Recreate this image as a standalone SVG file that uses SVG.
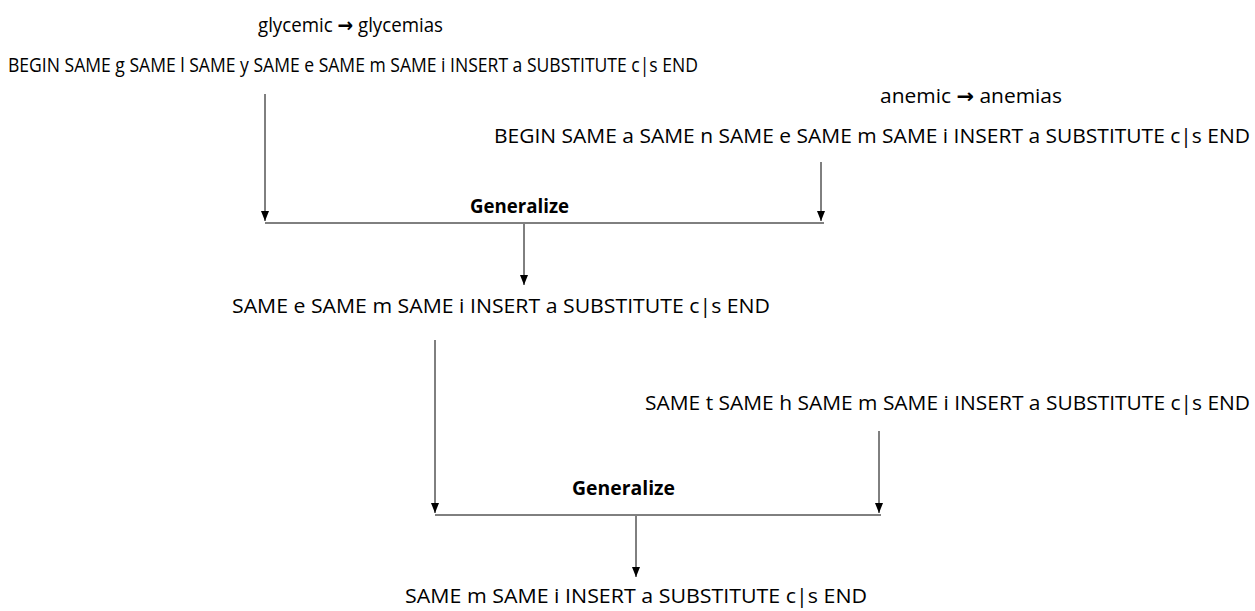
<svg xmlns="http://www.w3.org/2000/svg" width="1255" height="611" viewBox="0 0 1255 611">
<style>
text{font-family:"Open Sans","Noto Sans","Liberation Sans",sans-serif;font-size:20px;fill:#000}
.b{font-weight:bold}
.ar{font-family:"DejaVu Sans",sans-serif;font-weight:bold}
.c line{stroke:#000;stroke-width:1}
</style>
<defs>
<marker id="ah" viewBox="0 0 10 8" refX="10" refY="4" markerWidth="10" markerHeight="8" markerUnits="userSpaceOnUse" orient="auto">
<path d="M0,0 L10,4 L0,8 Z" fill="#000"/>
</marker>
</defs>
<rect width="1255" height="611" fill="#fff"/>
<g id="n1">
<text x="258" y="32" textLength="185" lengthAdjust="spacingAndGlyphs">glycemic <tspan class="ar">→</tspan> glycemias</text>
<text x="8" y="72" textLength="690" lengthAdjust="spacingAndGlyphs">BEGIN SAME g SAME l SAME y SAME e SAME m SAME i INSERT a SUBSTITUTE c|s END</text>
</g>
<g id="n2">
<text x="880" y="103" textLength="182" lengthAdjust="spacingAndGlyphs">anemic <tspan class="ar">→</tspan> anemias</text>
<text x="494" y="143" textLength="756" lengthAdjust="spacingAndGlyphs">BEGIN SAME a SAME n SAME e SAME m SAME i INSERT a SUBSTITUTE c|s END</text>
</g>
<g id="g1"><text class="b" x="470" y="213" textLength="99" lengthAdjust="spacingAndGlyphs">Generalize</text></g>
<g id="n3"><text x="232" y="313" textLength="538" lengthAdjust="spacingAndGlyphs">SAME e SAME m SAME i INSERT a SUBSTITUTE c|s END</text></g>
<g id="n4"><text x="645" y="410" textLength="605" lengthAdjust="spacingAndGlyphs">SAME t SAME h SAME m SAME i INSERT a SUBSTITUTE c|s END</text></g>
<g id="g2"><text class="b" x="572" y="495" textLength="103" lengthAdjust="spacingAndGlyphs">Generalize</text></g>
<g id="n5"><text x="405" y="603" textLength="462" lengthAdjust="spacingAndGlyphs">SAME m SAME i INSERT a SUBSTITUTE c|s END</text></g>
<g class="c" id="connectors">
<line x1="265" y1="94" x2="265" y2="221" marker-end="url(#ah)"/>
<line x1="821" y1="162" x2="821" y2="221" marker-end="url(#ah)"/>
<line x1="265" y1="223" x2="824" y2="223"/>
<line x1="524" y1="224" x2="524" y2="285" marker-end="url(#ah)"/>
<line x1="435" y1="340" x2="435" y2="513" marker-end="url(#ah)"/>
<line x1="879" y1="431" x2="879" y2="513" marker-end="url(#ah)"/>
<line x1="435" y1="515" x2="881" y2="515"/>
<line x1="636" y1="516" x2="636" y2="577" marker-end="url(#ah)"/>
</g>
</svg>
